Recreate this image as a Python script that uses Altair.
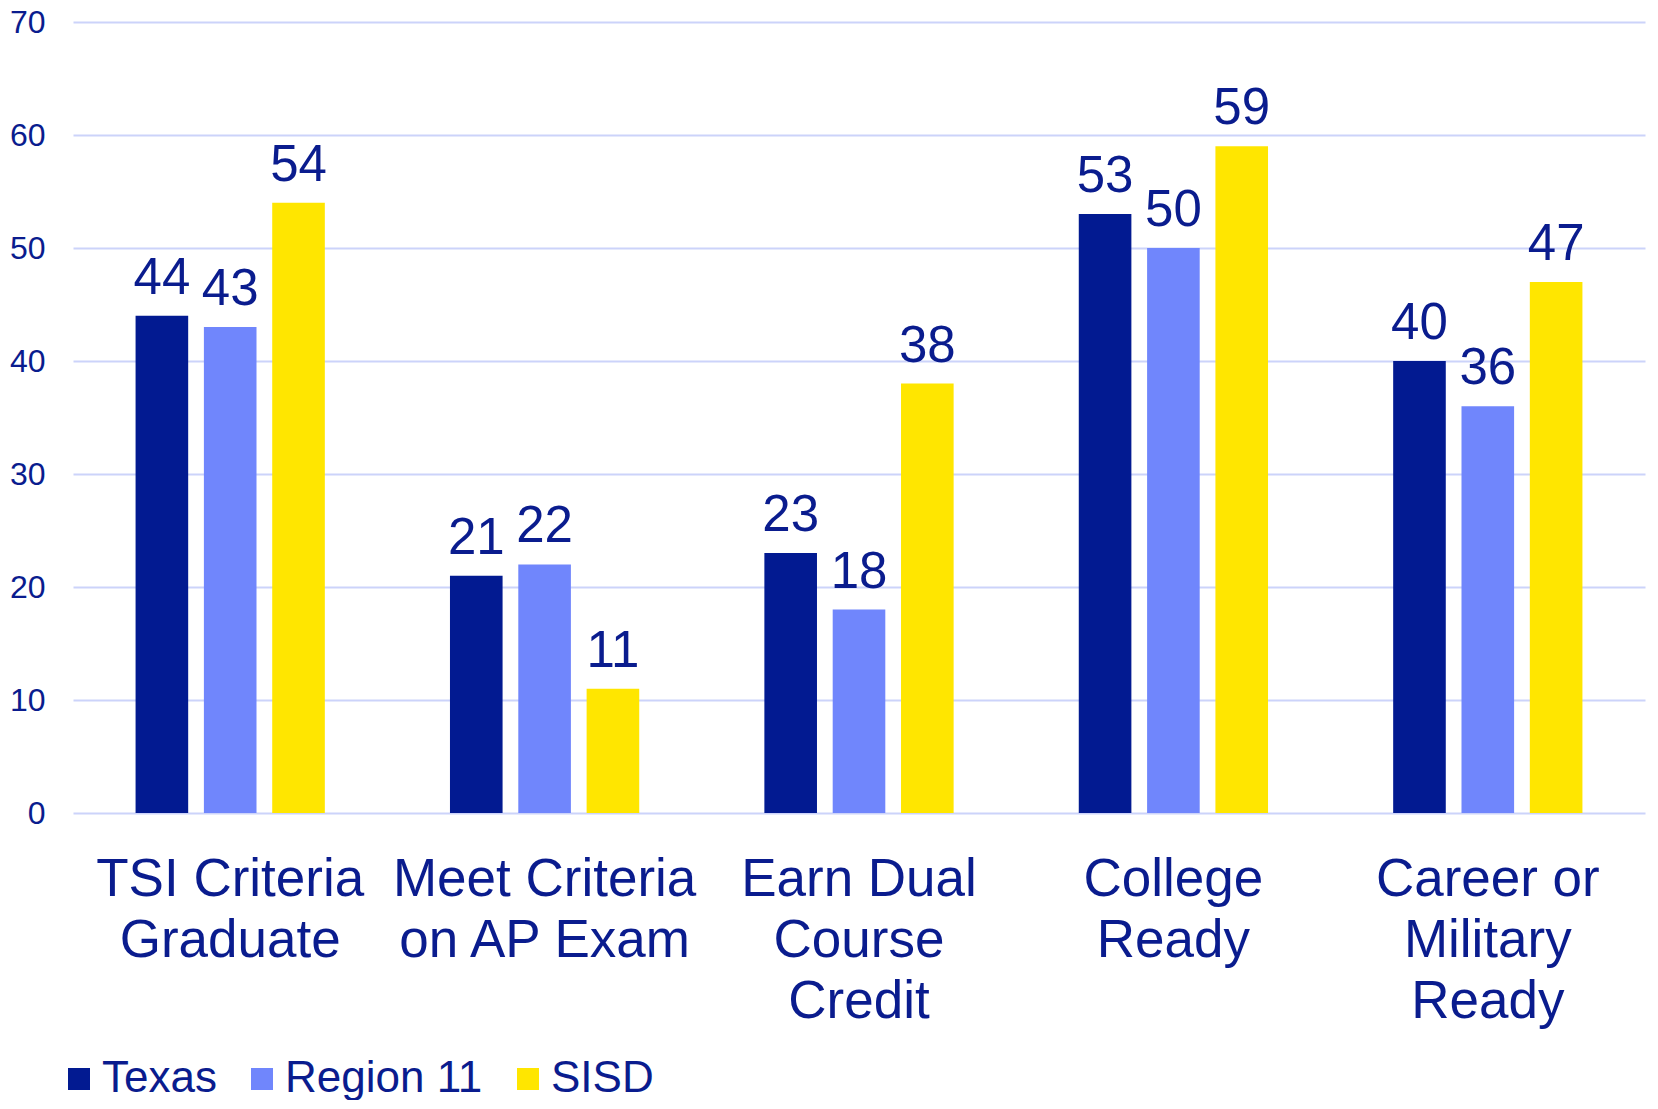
import altair as alt
import pandas as pd

categories = ["TSI Criteria|Graduate", "Meet Criteria|on AP Exam", "Earn Dual|Course|Credit",
              "College|Ready", "Career or|Military|Ready"]
series = ["Texas", "Region 11", "SISD"]
texas = [44, 21, 23, 53, 40]
region11 = [43, 22, 18, 50, 36]
sisd = [54, 11, 38, 59, 47]
colors = ["#021A91", "#7086FC", "#FFE600"]

rows = []
for i, c in enumerate(categories):
    for s, vals in zip(series, [texas, region11, sisd]):
        rows.append({"category": c, "series": s, "value": vals[i]})
df = pd.DataFrame(rows)

NAVY = "#0A1C8E"
REG = "'Liberation Sans', Arial, sans-serif"

x = alt.X("category:N", sort=categories, title=None,
          scale=alt.Scale(paddingInner=0.385, paddingOuter=0.1925),
          axis=alt.Axis(labelExpr="split(datum.value, '|')", labelAngle=0,
                        labelFont=REG, labelFontSize=53, labelLineHeight=61,
                        labelColor=NAVY, labelPadding=40, domain=False, ticks=False,
                        grid=False, labelBaseline="top", labelLimit=0))
xoff = alt.XOffset("series:N", sort=series,
                   scale=alt.Scale(paddingInner=0.23, paddingOuter=0.03))
y = alt.Y("value:Q", title=None,
          scale=alt.Scale(domain=[0, 70], nice=False),
          axis=alt.Axis(values=[0, 10, 20, 30, 40, 50, 60, 70], domain=False, ticks=False,
                        grid=True, gridColor="#CCD3FA", gridWidth=2,
                        labelFont=REG, labelFontSize=32, labelColor=NAVY, labelPadding=28))
color = alt.Color("series:N", sort=series,
                  scale=alt.Scale(domain=series, range=colors),
                  legend=alt.Legend(title=None, orient="none", legendX=-16, legendY=1035,
                                    direction="horizontal", symbolType="square",
                                    symbolSize=484, symbolStrokeWidth=0, labelFont=REG,
                                    labelFontSize=44, labelColor=NAVY, labelOffset=1,
                                    columnPadding=23, padding=0, labelLimit=0))

bars = alt.Chart(df).mark_bar().encode(x=x, xOffset=xoff, y=y, color=color)
labels = alt.Chart(df).mark_text(font=REG, fontSize=51, color=NAVY, baseline="alphabetic",
                                 dy=-22).encode(x=x, xOffset=xoff, y=y, text="value:Q")

chart = (bars + labels).properties(
    width=1572, height=791,
    autosize=alt.AutoSizeParams(type="none"),
    padding={"left": 65, "top": 14, "right": 5, "bottom": 287},
).configure_view(stroke=None)

chart.save("out.html", embed_options={"renderer": "svg", "actions": False})
